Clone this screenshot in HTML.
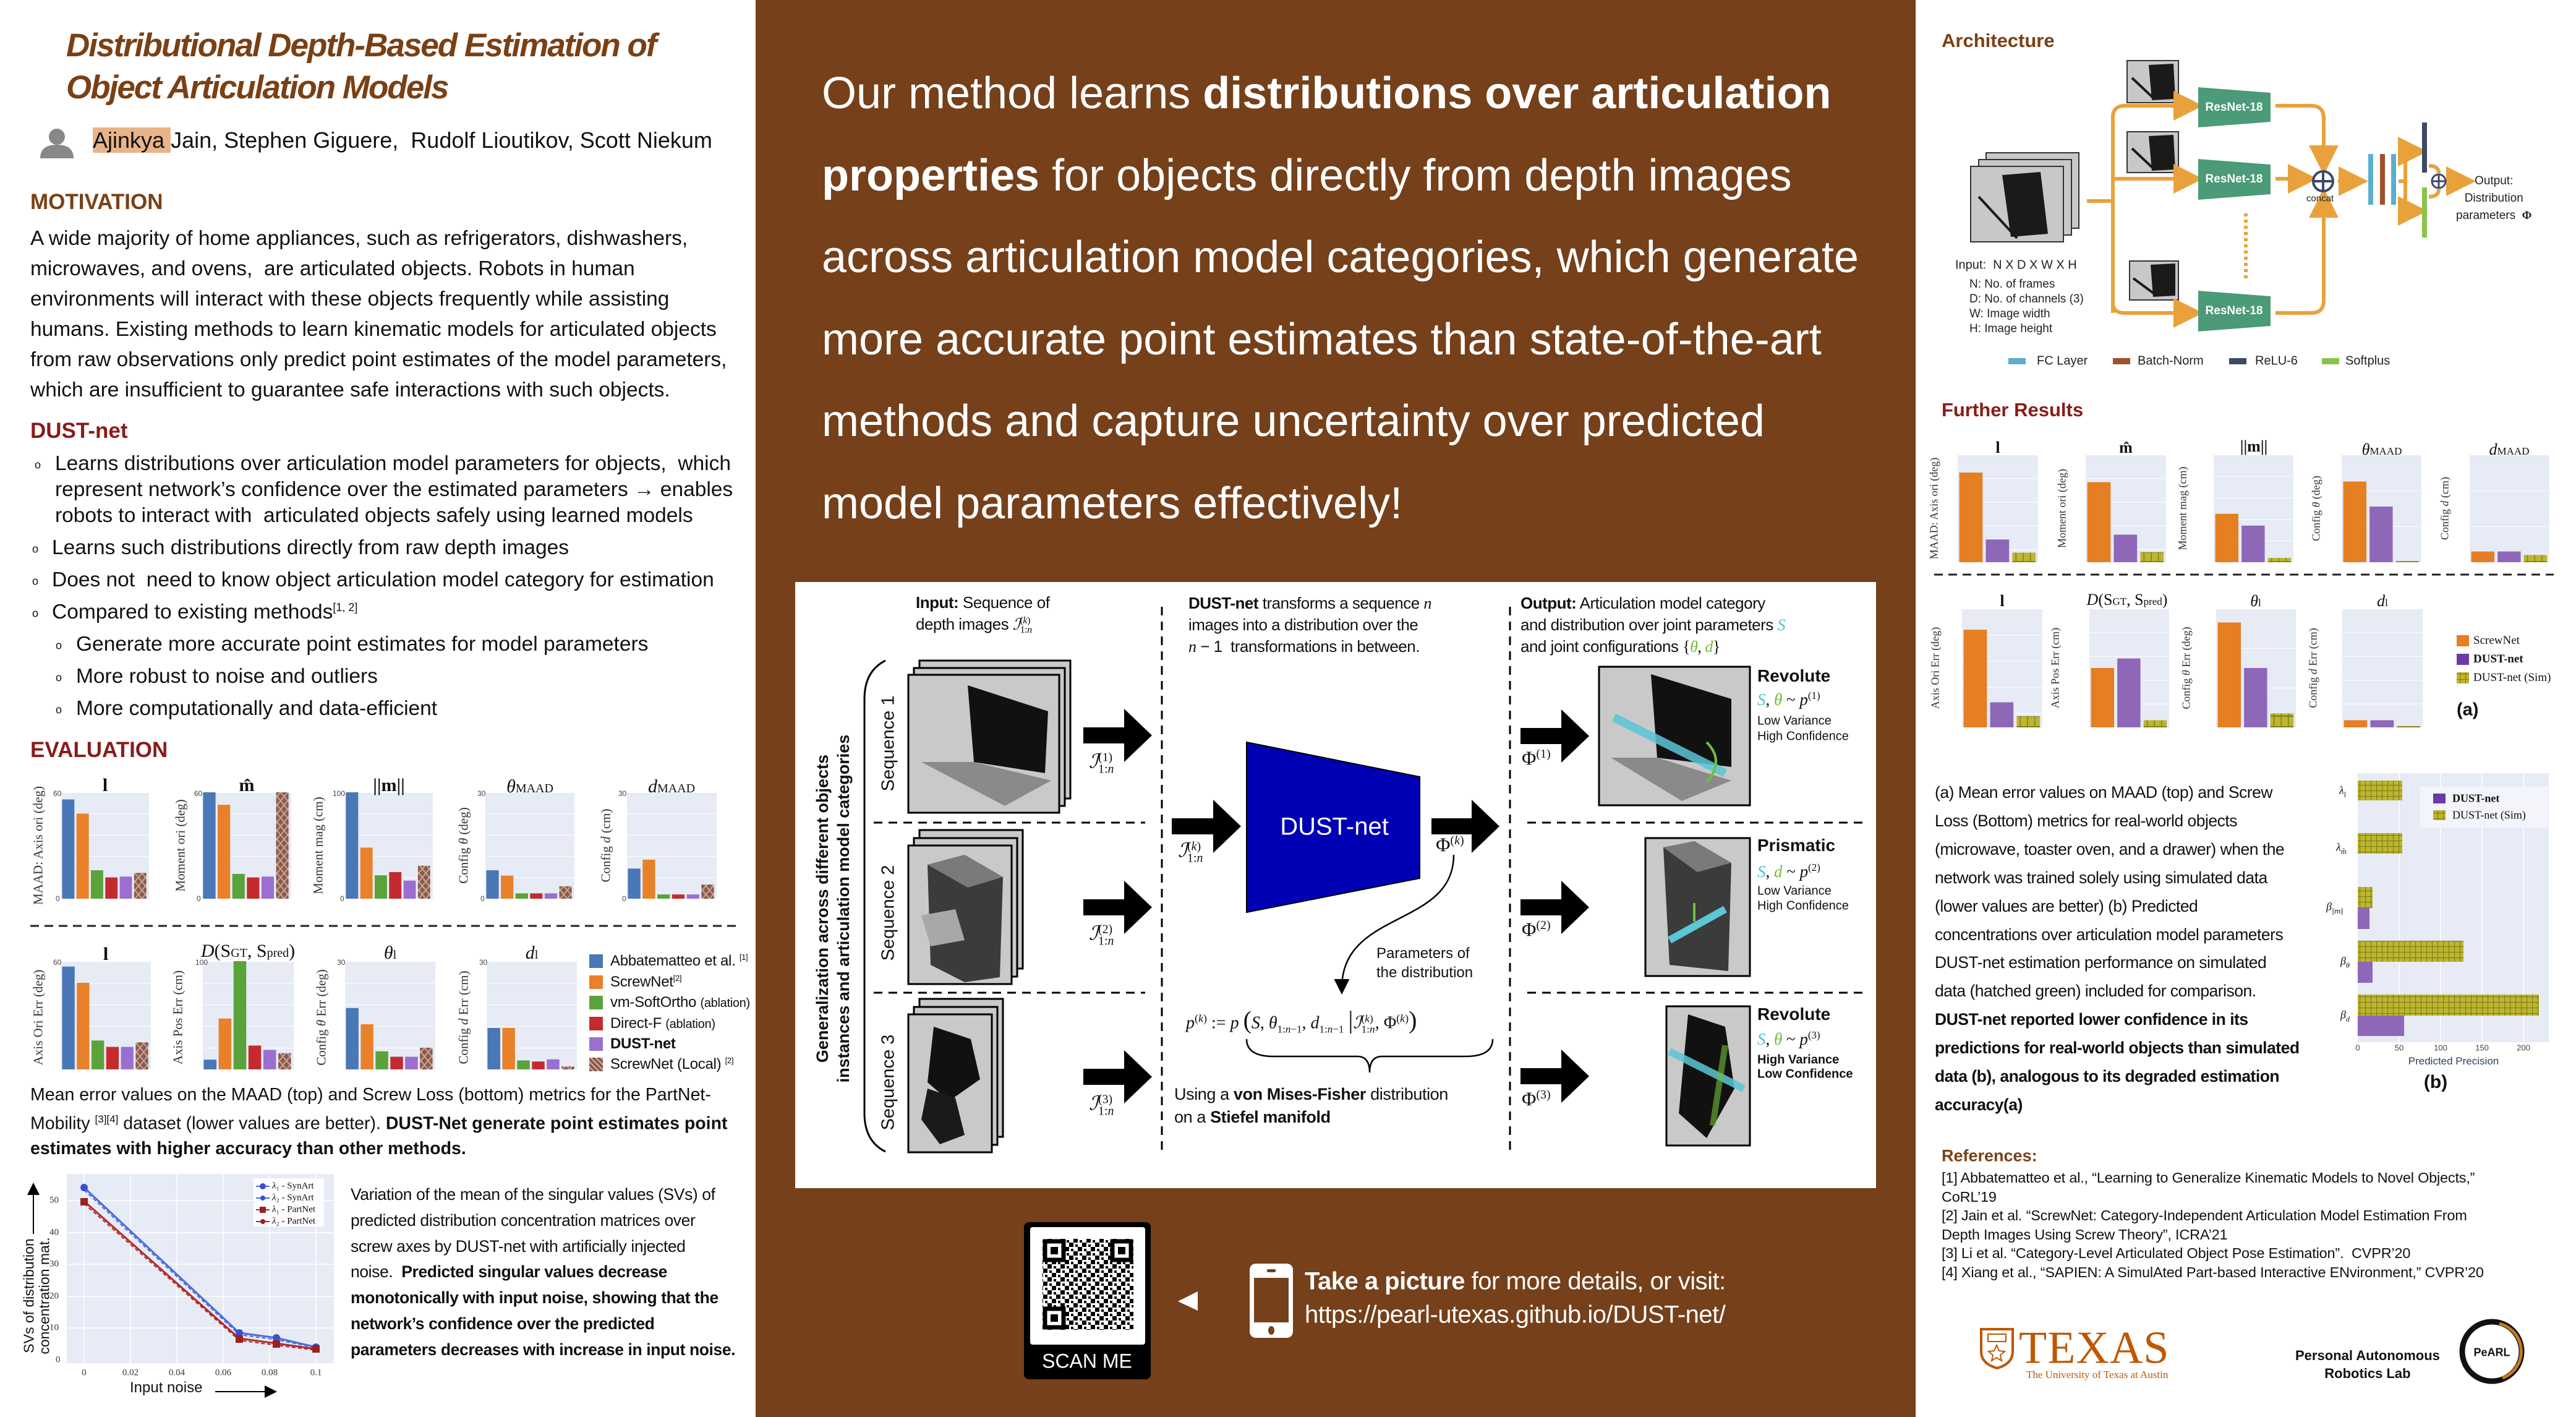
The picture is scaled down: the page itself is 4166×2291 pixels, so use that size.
<!DOCTYPE html>
<html><head><meta charset="utf-8">
<style>
*{margin:0;padding:0;box-sizing:border-box}
body{width:4166px;height:2291px;position:relative;overflow:hidden;background:#fff;font-family:"Liberation Sans",sans-serif;color:#111}
.a{position:absolute;white-space:nowrap}
.c{transform:translateY(-50%)}
.cc{transform:translate(-50%,-50%)}
.rot{transform:translate(-50%,-50%) rotate(-90deg)}
.sf{font-family:"Liberation Serif",serif}
.ss{display:inline-block;vertical-align:middle;line-height:.95;font-size:.62em;text-align:left}
.ss b,.ss span{display:block;font-weight:normal}
.pl{position:absolute;background-color:#e6ebf5;background-image:linear-gradient(#fff 1px,transparent 1px);background-size:100% 20%;background-position:0 0}
.pl svg{position:absolute;left:0;top:0;width:100%;height:100%}
.h{font-weight:bold}
.tk{font-size:12px;color:#444;text-align:right}
</style></head><body>

<svg width="4166" height="2291" style="position:absolute;left:0;top:0" xmlns="http://www.w3.org/2000/svg">
<defs>
<pattern id="hy" patternUnits="userSpaceOnUse" width="9" height="9"><rect width="9" height="9" fill="#bdb62e"/><path d="M0 .5H9M.5 0V9" stroke="#7f7c18" stroke-width="1.2"/></pattern>
<pattern id="hb" patternUnits="userSpaceOnUse" width="8" height="8"><rect width="8" height="8" fill="#8c5a4a"/><path d="M0 0L8 8M8 0L0 8" stroke="#c9a99c" stroke-width="1.2"/></pattern>
<marker id="ah" markerWidth="8" markerHeight="8" refX="5" refY="4" orient="auto"><path d="M0,0 L8,4 L0,8z" fill="#e9a23b"/></marker>
<marker id="ak" markerWidth="10" markerHeight="10" refX="6" refY="5" orient="auto"><path d="M0,0 L10,5 L0,10z" fill="#000"/></marker>
</defs>
<rect x="1222" y="0" width="1876" height="2291" fill="#75401a"/>
<rect x="1286" y="941" width="1748" height="980" fill="#fff"/>

<circle cx="92" cy="221" r="13" fill="#888"/>
<path d="M65 256 Q65 234 92 234 Q119 234 119 256Z" fill="#888"/>

<line x1="49" y1="1497" x2="1190" y2="1497" stroke="#222" stroke-width="3" stroke-dasharray="14 9"/>

<rect x="108" y="1898" width="432" height="306" fill="#e6ebf5"/>
<g stroke="#fff" stroke-width="1.5"><line x1="108" y1="1941" x2="540" y2="1941"/><line x1="108" y1="1993" x2="540" y2="1993"/><line x1="108" y1="2044" x2="540" y2="2044"/><line x1="108" y1="2096" x2="540" y2="2096"/><line x1="108" y1="2147" x2="540" y2="2147"/><line x1="211" y1="1898" x2="211" y2="2204"/><line x1="286" y1="1898" x2="286" y2="2204"/><line x1="361" y1="1898" x2="361" y2="2204"/><line x1="436" y1="1898" x2="436" y2="2204"/><line x1="511" y1="1898" x2="511" y2="2204"/><line x1="136" y1="1898" x2="136" y2="2204"/></g>
<polyline points="136,1920 387,2155 447,2163 511,2178" fill="none" stroke="#4b6be0" stroke-width="3"/>
<polyline points="136,1924 387,2158 447,2166 511,2179" fill="none" stroke="#4b6be0" stroke-width="2" stroke-dasharray="6 4"/>
<polyline points="136,1942 387,2164 447,2172 511,2181" fill="none" stroke="#b02a2a" stroke-width="3"/>
<polyline points="136,1946 387,2167 447,2175 511,2183" fill="none" stroke="#b02a2a" stroke-width="2" stroke-dasharray="6 4"/>
<g fill="#3a4fd0"><circle cx="136" cy="1920" r="6"/><circle cx="387" cy="2155" r="6"/><circle cx="447" cy="2163" r="6"/><circle cx="511" cy="2178" r="6"/></g>
<g fill="#9c2020"><rect x="130" y="1937" width="12" height="12"/><rect x="381" y="2159" width="12" height="12"/><rect x="441" y="2167" width="12" height="12"/><rect x="505" y="2175" width="12" height="12"/></g>
<rect x="410" y="1905" width="114" height="78" fill="#fff" opacity=".9"/>
<g stroke-width="2"><line x1="414" y1="1918" x2="436" y2="1918" stroke="#4b6be0"/><line x1="414" y1="1937" x2="436" y2="1937" stroke="#4b6be0"/><line x1="414" y1="1956" x2="436" y2="1956" stroke="#b02a2a"/><line x1="414" y1="1975" x2="436" y2="1975" stroke="#b02a2a"/></g>
<circle cx="425" cy="1918" r="5" fill="#3a4fd0"/><circle cx="425" cy="1937" r="4" fill="#3a4fd0"/><rect x="420" y="1951" width="10" height="10" fill="#9c2020"/><circle cx="425" cy="1975" r="4" fill="#9c2020"/>
<line x1="54" y1="1995" x2="54" y2="1920" stroke="#000" stroke-width="2" marker-end="url(#ak)"/>
<line x1="348" y1="2250" x2="440" y2="2250" stroke="#000" stroke-width="2" marker-end="url(#ak)"/>

<g stroke="#000" stroke-width="3" stroke-dasharray="14 10">
<line x1="1879" y1="981" x2="1879" y2="1862"/><line x1="2442" y1="981" x2="2442" y2="1862"/>
<line x1="1413" y1="1330" x2="1852" y2="1330"/><line x1="2470" y1="1330" x2="3015" y2="1330"/>
<line x1="1413" y1="1605" x2="1852" y2="1605"/><line x1="2470" y1="1605" x2="3015" y2="1605"/>
</g>
<path d="M1432 1068 Q1398 1085 1398 1130 L1398 1800 Q1398 1845 1432 1862" fill="none" stroke="#000" stroke-width="3"/>
<g stroke="#000" stroke-width="3" fill="#c9c9c9">
<rect x="1487" y="1068" width="244" height="223"/><rect x="1478" y="1080" width="244" height="223"/><rect x="1469" y="1091" width="244" height="223"/>
<rect x="1487" y="1342" width="167" height="224"/><rect x="1478" y="1355" width="167" height="224"/><rect x="1469" y="1367" width="167" height="224"/>
<rect x="1487" y="1615" width="135" height="223"/><rect x="1478" y="1628" width="135" height="223"/><rect x="1469" y="1640" width="135" height="223"/>
</g>
<polygon points="1565,1108 1695,1150 1690,1250 1575,1232" fill="#111"/>
<polygon points="1490,1232 1575,1232 1700,1262 1625,1303" fill="#8a8a8a"/>
<polygon points="1500,1398 1560,1382 1622,1418 1617,1580 1560,1588 1505,1560" fill="#3b3b3b"/>
<polygon points="1500,1398 1560,1382 1622,1418 1565,1435" fill="#7a7a7a"/>
<polygon points="1490,1480 1545,1470 1560,1520 1505,1530" fill="#a8a8a8"/>
<polygon points="1510,1660 1570,1680 1585,1745 1535,1780 1500,1750" fill="#111"/>
<polygon points="1500,1760 1545,1775 1560,1835 1520,1850 1490,1810" fill="#1a1a1a"/>
<g fill="#000">
<path d="M1752 1176h66v-30l45 43l-45 43v-30h-66z"/>
<path d="M1752 1454h66v-30l45 43l-45 43v-30h-66z"/>
<path d="M1752 1728h66v-30l45 43l-45 43v-30h-66z"/>
<path d="M1895 1323h67v-30l45 43l-45 43v-30h-67z"/>
<path d="M2315 1323h65v-30l45 43l-45 43v-30h-65z"/>
<path d="M2459 1177h66v-30l45 43l-45 43v-30h-66z"/>
<path d="M2459 1454h66v-30l45 43l-45 43v-30h-66z"/>
<path d="M2459 1727h66v-30l45 43l-45 43v-30h-66z"/>
</g>
<polygon points="2016,1200 2296,1256 2296,1420 2016,1475" fill="#0000b4" stroke="#000" stroke-width="2"/>
<path d="M2351 1382 C2351 1500 2170 1470 2170 1598" fill="none" stroke="#000" stroke-width="2.5" marker-end="url(#ak)"/>
<path d="M2016 1680 Q2016 1708 2060 1708 L2195 1708 Q2215 1708 2215 1734 Q2215 1708 2235 1708 L2370 1708 Q2414 1708 2414 1680" fill="none" stroke="#000" stroke-width="2.5"/>
<g stroke="#000" stroke-width="3" fill="#c9c9c9">
<rect x="2586" y="1078" width="244" height="224"/><rect x="2661" y="1355" width="169" height="223"/><rect x="2695" y="1627" width="135" height="225"/>
</g>
<polygon points="2670,1090 2800,1130 2800,1240 2680,1225" fill="#111"/>
<polygon points="2605,1225 2680,1225 2800,1262 2720,1295" fill="#8a8a8a"/>
<line x1="2610" y1="1160" x2="2790" y2="1250" stroke="#5bc6d6" stroke-width="14" opacity=".85"/>
<path d="M2760 1200 Q2790 1230 2760 1265" fill="none" stroke="#6fbf3a" stroke-width="4"/>
<polygon points="2690,1370 2740,1360 2800,1395 2795,1570 2700,1560" fill="#3b3b3b"/>
<polygon points="2690,1370 2740,1360 2800,1395 2745,1410" fill="#7a7a7a"/>
<line x1="2790" y1="1470" x2="2700" y2="1520" stroke="#5bc6d6" stroke-width="12"/>
<line x1="2740" y1="1460" x2="2740" y2="1490" stroke="#6fbf3a" stroke-width="4"/>
<polygon points="2730,1640 2790,1660 2805,1760 2760,1840 2715,1800" fill="#111"/>
<line x1="2700" y1="1700" x2="2820" y2="1760" stroke="#5bc6d6" stroke-width="12" opacity=".85"/>
<line x1="2790" y1="1690" x2="2770" y2="1820" stroke="#6fbf3a" stroke-width="10" opacity=".6"/>

<rect x="1656" y="1976" width="205" height="254" rx="8" fill="#000"/>
<rect x="1666" y="1984" width="186" height="190" rx="4" fill="#fff"/>
<rect x="1686" y="2003" width="147" height="147" fill="url(#qr)"/>
<defs><pattern id="qr" patternUnits="userSpaceOnUse" width="21" height="21"><rect width="21" height="21" fill="#fff"/><path d="M0 0h7v7H0zM14 7h7v7h-7zM7 14h7v7H7zM3 10h4v4H3zM10 3h4v4h-4zM17 17h4v4h-4z" fill="#000"/></pattern></defs>
<g fill="#fff" stroke="#000" stroke-width="7"><rect x="1690" y="2007" width="30" height="30"/><rect x="1799" y="2007" width="30" height="30"/><rect x="1690" y="2116" width="30" height="30"/></g>
<g fill="#000"><rect x="1699" y="2016" width="12" height="12"/><rect x="1808" y="2016" width="12" height="12"/><rect x="1699" y="2125" width="12" height="12"/></g>
<polygon points="1937,2088 1905,2104 1937,2119" fill="#fff"/>
<rect x="2021" y="2043" width="70" height="120" rx="10" fill="#fff"/>
<rect x="2028" y="2066" width="56" height="72" fill="#75401a"/>
<rect x="2049" y="2052" width="14" height="5" rx="2" fill="#75401a"/>
<ellipse cx="2056" cy="2151" rx="5" ry="7" fill="#75401a"/>

<g stroke="#333" stroke-width="2" fill="#c8c8c8">
<rect x="3212" y="247" width="150" height="122"/><rect x="3200" y="258" width="150" height="122"/><rect x="3187" y="269" width="150" height="122"/>
<rect x="3440" y="98" width="83" height="68"/><rect x="3440" y="213" width="83" height="66"/><rect x="3444" y="422" width="79" height="63"/>
</g>
<g fill="#1a1a1a"><polygon points="3238,283 3300,278 3312,378 3252,383"/><polygon points="3475,105 3515,103 3518,160 3480,162"/><polygon points="3475,220 3515,218 3518,274 3480,276"/><polygon points="3478,428 3518,426 3518,478 3482,480"/></g>
<g stroke="#1a1a1a" stroke-width="4"><line x1="3200" y1="318" x2="3262" y2="385"/><line x1="3448" y1="126" x2="3482" y2="158"/><line x1="3448" y1="240" x2="3482" y2="272"/><line x1="3450" y1="450" x2="3484" y2="475"/></g>
<g fill="none" stroke="#e9a23b" stroke-width="6">
<path d="M3375 325 H3417"/>
<path d="M3417 506 V190 Q3417 171 3436 171 H3545" marker-end="url(#ah)"/>
<path d="M3417 289 H3545" marker-end="url(#ah)"/>
<path d="M3417 490 Q3417 506 3436 506 H3545" marker-end="url(#ah)"/>
<path d="M3680 171 H3738 Q3758 171 3758 192 V265" marker-end="url(#ah)"/>
<path d="M3680 289 H3730" marker-end="url(#ah)"/>
<path d="M3680 506 H3738 Q3758 506 3758 486 V322" marker-end="url(#ah)"/>
<path d="M3781 293 H3812" marker-end="url(#ah)"/>
<path d="M3632 345 V454" stroke-dasharray="5 5"/>
<path d="M3879 293 H3890 M3900 245 Q3890 245 3890 260 V326 Q3890 341 3900 341"/>
<path d="M3900 245 H3908" marker-end="url(#ah)"/>
<path d="M3900 341 H3908" marker-end="url(#ah)"/>
<path d="M3928 268 Q3944 268 3944 280"/>
<path d="M3928 318 Q3944 318 3944 306"/>
<path d="M3957 293 H3986" marker-end="url(#ah)"/>
</g>
<g fill="#4b9a78"><polygon points="3555,141 3672,150 3672,197 3555,206"/><polygon points="3555,257 3672,266 3672,314 3555,323"/><polygon points="3555,470 3672,479 3672,527 3555,536"/></g>
<circle cx="3757" cy="293" r="16" fill="#fff" stroke="#3b4a6b" stroke-width="4"/><path d="M3741 293H3773M3757 277V309" stroke="#3b4a6b" stroke-width="4"/>
<rect x="3830" y="249" width="8" height="82" fill="#5aaed0"/><rect x="3849" y="249" width="8" height="82" fill="#a0502a"/><rect x="3867" y="249" width="8" height="82" fill="#5aaed0"/>
<rect x="3917" y="198" width="8" height="81" fill="#3d4a63"/><rect x="3917" y="303" width="8" height="81" fill="#8bc34a"/>
<circle cx="3944" cy="293" r="11" fill="#fff" stroke="#3b4a6b" stroke-width="3"/><path d="M3933 293H3955M3944 282V304" stroke="#3b4a6b" stroke-width="3"/>
<rect x="3248" y="579" width="28" height="10" fill="#5aaed0"/><rect x="3417" y="579" width="28" height="10" fill="#a0502a"/><rect x="3605" y="579" width="28" height="10" fill="#3d4a63"/><rect x="3755" y="579" width="28" height="10" fill="#8bc34a"/>

<line x1="3128" y1="929" x2="4130" y2="929" stroke="#222" stroke-width="3" stroke-dasharray="14 9"/>
<rect x="3973" y="1027" width="20" height="18" fill="#e67e22"/><rect x="3973" y="1057" width="20" height="18" fill="#6a3aa8"/><rect x="3973" y="1087" width="20" height="18" fill="url(#hy)"/>
<rect x="3813" y="1250" width="309" height="435" fill="#e6ebf5"/>
<g stroke="#fff" stroke-width="1.5"><line x1="3880" y1="1250" x2="3880" y2="1685"/><line x1="3947" y1="1250" x2="3947" y2="1685"/><line x1="4014" y1="1250" x2="4014" y2="1685"/><line x1="4081" y1="1250" x2="4081" y2="1685"/></g>
<rect x="3813" y="1262" width="72" height="32" fill="url(#hy)"/>
<rect x="3813" y="1347" width="72" height="33" fill="url(#hy)"/>
<rect x="3813" y="1434" width="24" height="34" fill="url(#hy)"/><rect x="3813" y="1468" width="19" height="34" fill="#8e67b8"/>
<rect x="3813" y="1521" width="171" height="34" fill="url(#hy)"/><rect x="3813" y="1555" width="24" height="34" fill="#8e67b8"/>
<rect x="3813" y="1608" width="293" height="34" fill="url(#hy)"/><rect x="3813" y="1642" width="75" height="33" fill="#8e67b8"/>
<rect x="3914" y="1272" width="207" height="66" fill="#f3f5fb"/>
<rect x="3935" y="1283" width="20" height="16" fill="#6a3aa8"/><rect x="3935" y="1310" width="20" height="16" fill="url(#hy)"/>
<path d="M3204 2149 H3255 V2185 Q3255 2205 3230 2212 Q3204 2205 3204 2185Z" fill="none" stroke="#bf5700" stroke-width="4"/>
<rect x="3215" y="2157" width="29" height="12" fill="none" stroke="#bf5700" stroke-width="2"/>
<path d="M3229 2175 l4 9 9 1 -7 6 2 9 -8 -5 -8 5 2 -9 -7 -6 9 -1z" fill="none" stroke="#bf5700" stroke-width="2"/>
<circle cx="4030" cy="2185" r="48" fill="#fff" stroke="#111" stroke-width="9"/>
<path d="M4042 2140 A46 46 0 0 1 4047 2228" fill="none" stroke="#c8781e" stroke-width="5"/>
</svg>

<!-- LEFT COLUMN -->
<div class="a h" style="left:107px;top:40px;font-size:53px;line-height:68px;font-style:italic;color:#7a4014;letter-spacing:-2px">Distributional Depth-Based Estimation of<br>Object Articulation Models</div>
<div class="a c" style="left:150px;top:227px;font-size:36px"><span style="background:#e9b489">Ajinkya </span>Jain, Stephen Giguere,&nbsp; Rudolf Lioutikov, Scott Niekum</div>
<div class="a c h" style="left:49px;top:327px;font-size:35px;color:#7a4014">MOTIVATION</div>
<div class="a" style="left:49px;top:361px;font-size:33.5px;line-height:49px">A wide majority of home appliances, such as refrigerators, dishwashers,<br>microwaves, and ovens,&nbsp; are articulated objects. Robots in human<br>environments will interact with these objects frequently while assisting<br>humans. Existing methods to learn kinematic models for articulated objects<br>from raw observations only predict point estimates of the model parameters,<br>which are insufficient to guarantee safe interactions with such objects.</div>
<div class="a c h" style="left:49px;top:697px;font-size:35px;color:#8b1a1a">DUST-net</div>
<div style="position:absolute;left:0;top:0;font-size:33.5px">
<div class="a c" style="left:56px;top:752px;font-size:18px">o</div>
<div class="a" style="left:89px;top:729px;line-height:42px">Learns distributions over articulation model parameters for objects,&nbsp; which<br>represent network’s confidence over the estimated parameters → enables<br>robots to interact with&nbsp; articulated objects safely using learned models</div>
<div class="a c" style="left:52px;top:888px;font-size:18px">o</div><div class="a c" style="left:84px;top:886px">Learns such distributions directly from raw depth images</div>
<div class="a c" style="left:52px;top:940px;font-size:18px">o</div><div class="a c" style="left:84px;top:938px">Does not&nbsp; need to know object articulation model category for estimation</div>
<div class="a c" style="left:52px;top:992px;font-size:18px">o</div><div class="a c" style="left:84px;top:990px">Compared to existing methods<sup style="font-size:18px">[1, 2]</sup></div>
<div class="a c" style="left:90px;top:1044px;font-size:18px">o</div><div class="a c" style="left:123px;top:1042px">Generate more accurate point estimates for model parameters</div>
<div class="a c" style="left:90px;top:1096px;font-size:18px">o</div><div class="a c" style="left:123px;top:1094px">More robust to noise and outliers</div>
<div class="a c" style="left:90px;top:1148px;font-size:18px">o</div><div class="a c" style="left:123px;top:1146px">More computationally and data-efficient</div>
</div>
<div class="a c h" style="left:49px;top:1213px;font-size:35px;color:#8b1a1a">EVALUATION</div>

<div class="pl" style="left:99px;top:1281px;width:142px;height:172px"><svg viewBox="0 0 100 100" preserveAspectRatio="none"><rect x="1" y="6.7" width="14" height="93.3" fill="#4a77b5"/><rect x="17.4" y="20" width="14" height="80" fill="#e8812a"/><rect x="33.8" y="73.3" width="14" height="26.7" fill="#5aa33b"/><rect x="50.2" y="80" width="14" height="20" fill="#c42b2f"/><rect x="66.6" y="79.2" width="14" height="20.8" fill="#9a6fd0"/><rect x="83" y="75.8" width="14" height="24.2" fill="url(#hb)"/></svg></div>
<div class="pl" style="left:327px;top:1281px;width:144px;height:172px"><svg viewBox="0 0 100 100" preserveAspectRatio="none"><rect x="1" y="0" width="14" height="100" fill="#4a77b5"/><rect x="17.4" y="11.7" width="14" height="88.3" fill="#e8812a"/><rect x="33.8" y="76.7" width="14" height="23.3" fill="#5aa33b"/><rect x="50.2" y="80" width="14" height="20" fill="#c42b2f"/><rect x="66.6" y="79.2" width="14" height="20.8" fill="#9a6fd0"/><rect x="83" y="0" width="14" height="100" fill="url(#hb)"/></svg></div>
<div class="pl" style="left:558px;top:1281px;width:142px;height:172px"><svg viewBox="0 0 100 100" preserveAspectRatio="none"><rect x="1" y="0" width="14" height="100" fill="#4a77b5"/><rect x="17.4" y="52" width="14" height="48" fill="#e8812a"/><rect x="33.8" y="78" width="14" height="22" fill="#5aa33b"/><rect x="50.2" y="75" width="14" height="25" fill="#c42b2f"/><rect x="66.6" y="83" width="14" height="17" fill="#9a6fd0"/><rect x="83" y="69" width="14" height="31" fill="url(#hb)"/></svg></div>
<div class="pl" style="left:785px;top:1281px;width:144px;height:172px"><svg viewBox="0 0 100 100" preserveAspectRatio="none"><rect x="1" y="73.3" width="14" height="26.7" fill="#4a77b5"/><rect x="17.4" y="78.3" width="14" height="21.7" fill="#e8812a"/><rect x="33.8" y="95" width="14" height="5" fill="#5aa33b"/><rect x="50.2" y="95" width="14" height="5" fill="#c42b2f"/><rect x="66.6" y="95" width="14" height="5" fill="#9a6fd0"/><rect x="83" y="88.3" width="14" height="11.7" fill="url(#hb)"/></svg></div>
<div class="pl" style="left:1014px;top:1281px;width:145px;height:172px"><svg viewBox="0 0 100 100" preserveAspectRatio="none"><rect x="1" y="71.7" width="14" height="28.3" fill="#4a77b5"/><rect x="17.4" y="63.3" width="14" height="36.7" fill="#e8812a"/><rect x="33.8" y="96" width="14" height="4" fill="#5aa33b"/><rect x="50.2" y="96" width="14" height="4" fill="#c42b2f"/><rect x="66.6" y="96" width="14" height="4" fill="#9a6fd0"/><rect x="83" y="86.7" width="14" height="13.3" fill="url(#hb)"/></svg></div>
<div class="pl" style="left:99px;top:1554px;width:145px;height:175px"><svg viewBox="0 0 100 100" preserveAspectRatio="none"><rect x="1" y="5" width="14" height="95" fill="#4a77b5"/><rect x="17.4" y="20" width="14" height="80" fill="#e8812a"/><rect x="33.8" y="73.3" width="14" height="26.7" fill="#5aa33b"/><rect x="50.2" y="79.2" width="14" height="20.8" fill="#c42b2f"/><rect x="66.6" y="79.2" width="14" height="20.8" fill="#9a6fd0"/><rect x="83" y="75" width="14" height="25" fill="url(#hb)"/></svg></div>
<div class="pl" style="left:328px;top:1554px;width:147px;height:175px"><svg viewBox="0 0 100 100" preserveAspectRatio="none"><rect x="1" y="91" width="14" height="9" fill="#4a77b5"/><rect x="17.4" y="53" width="14" height="47" fill="#e8812a"/><rect x="33.8" y="0" width="14" height="100" fill="#5aa33b"/><rect x="50.2" y="78" width="14" height="22" fill="#c42b2f"/><rect x="66.6" y="82" width="14" height="18" fill="#9a6fd0"/><rect x="83" y="85" width="14" height="15" fill="url(#hb)"/></svg></div>
<div class="pl" style="left:558px;top:1554px;width:146px;height:175px"><svg viewBox="0 0 100 100" preserveAspectRatio="none"><rect x="1" y="43.3" width="14" height="56.7" fill="#4a77b5"/><rect x="17.4" y="58.3" width="14" height="41.7" fill="#e8812a"/><rect x="33.8" y="83.3" width="14" height="16.7" fill="#5aa33b"/><rect x="50.2" y="88.3" width="14" height="11.7" fill="#c42b2f"/><rect x="66.6" y="88.3" width="14" height="11.7" fill="#9a6fd0"/><rect x="83" y="80" width="14" height="20" fill="url(#hb)"/></svg></div>
<div class="pl" style="left:787px;top:1554px;width:146px;height:175px"><svg viewBox="0 0 100 100" preserveAspectRatio="none"><rect x="1" y="61.7" width="14" height="38.3" fill="#4a77b5"/><rect x="17.4" y="61.7" width="14" height="38.3" fill="#e8812a"/><rect x="33.8" y="91.7" width="14" height="8.3" fill="#5aa33b"/><rect x="50.2" y="92.7" width="14" height="7.3" fill="#c42b2f"/><rect x="66.6" y="90.7" width="14" height="9.3" fill="#9a6fd0"/><rect x="83" y="97.3" width="14" height="2.7" fill="url(#hb)"/></svg></div>

<div class="sf" style="position:absolute;left:0;top:0;font-size:30px">
<div class="a cc h" style="left:170px;top:1270px">l</div>
<div class="a cc h" style="left:399px;top:1270px">m̂</div>
<div class="a cc h" style="left:629px;top:1270px">||m||</div>
<div class="a cc" style="left:857px;top:1272px"><i>θ</i><span style="font-size:20px">MAAD</span></div>
<div class="a cc" style="left:1086px;top:1272px"><i>d</i><span style="font-size:20px">MAAD</span></div>
<div class="a cc h" style="left:171px;top:1543px">l</div>
<div class="a cc" style="left:401px;top:1538px"><i>D</i>(S<span style="font-size:20px">GT</span>, S<span style="font-size:20px">pred</span>)</div>
<div class="a cc" style="left:631px;top:1541px"><i>θ</i><span style="font-size:20px">l</span></div>
<div class="a cc" style="left:860px;top:1541px"><i>d</i><span style="font-size:20px">l</span></div>
</div>
<div class="sf" style="position:absolute;left:0;top:0;font-size:21px;color:#333">
<div class="a rot" style="left:62px;top:1367px">MAAD: Axis ori (deg)</div>
<div class="a rot" style="left:292px;top:1367px">Moment ori (deg)</div>
<div class="a rot" style="left:515px;top:1367px">Moment mag (cm)</div>
<div class="a rot" style="left:750px;top:1367px">Config <i>θ</i> (deg)</div>
<div class="a rot" style="left:980px;top:1367px">Config <i>d</i> (cm)</div>
<div class="a rot" style="left:62px;top:1645px">Axis Ori Err (deg)</div>
<div class="a rot" style="left:288px;top:1645px">Axis Pos Err (cm)</div>
<div class="a rot" style="left:520px;top:1645px">Config <i>θ</i> Err (deg)</div>
<div class="a rot" style="left:750px;top:1645px">Config <i>d</i> Err (cm)</div>
</div>
<div class="tk">
<div class="a c" style="left:86px;top:1283px">60</div><div class="a c" style="left:90px;top:1453px">0</div>
<div class="a c" style="left:314px;top:1283px">60</div><div class="a c" style="left:318px;top:1453px">0</div>
<div class="a c" style="left:538px;top:1283px">100</div><div class="a c" style="left:550px;top:1453px">0</div>
<div class="a c" style="left:772px;top:1283px">30</div><div class="a c" style="left:777px;top:1453px">0</div>
<div class="a c" style="left:1000px;top:1283px">30</div><div class="a c" style="left:1006px;top:1453px">0</div>
<div class="a c" style="left:86px;top:1556px">60</div><div class="a c" style="left:316px;top:1556px">100</div><div class="a c" style="left:545px;top:1556px">30</div><div class="a c" style="left:775px;top:1556px">30</div>
</div>
<div style="position:absolute;left:0;top:0;font-size:24px;letter-spacing:-0.3px">
<div class="a" style="left:953px;top:1543px;width:22px;height:22px;background:#4a77b5"></div><div class="a c" style="left:987px;top:1554px">Abbatematteo et al. <sup style="font-size:13px">[1]</sup></div>
<div class="a" style="left:953px;top:1577px;width:22px;height:22px;background:#e8812a"></div><div class="a c" style="left:987px;top:1588px">ScrewNet<sup style="font-size:13px">[2]</sup></div>
<div class="a" style="left:953px;top:1610px;width:22px;height:22px;background:#5aa33b"></div><div class="a c" style="left:987px;top:1621px">vm-SoftOrtho <span style="font-size:20px">(ablation)</span></div>
<div class="a" style="left:953px;top:1644px;width:22px;height:22px;background:#c42b2f"></div><div class="a c" style="left:987px;top:1655px">Direct-F <span style="font-size:20px">(ablation)</span></div>
<div class="a" style="left:953px;top:1677px;width:22px;height:22px;background:#9a6fd0"></div><div class="a c h" style="left:987px;top:1688px">DUST-net</div>
<div class="a" style="left:953px;top:1710px;width:22px;height:22px;background:repeating-linear-gradient(45deg,#8c5a4a 0 4px,#d7c0b5 4px 6px)"></div><div class="a c" style="left:987px;top:1721px">ScrewNet (Local) <sup style="font-size:13px">[2]</sup></div>
</div>
<div class="a" style="left:49px;top:1750px;font-size:28.5px;line-height:40px">Mean error values on the MAAD (top) and Screw Loss (bottom) metrics for the PartNet-<br>Mobility <sup style="font-size:17px">[3][4]</sup> dataset (lower values are better). <b>DUST-Net generate point estimates point</b><br><b>estimates with higher accuracy than other methods.</b></div>

<div class="sf" style="position:absolute;left:0;top:0;font-size:15px;color:#333">
<div class="a c" style="left:440px;top:1918px;color:#111"><i>λ</i>₁ - SynArt</div>
<div class="a c" style="left:440px;top:1937px;color:#111"><i>λ</i>₂ - SynArt</div>
<div class="a c" style="left:440px;top:1956px;color:#111"><i>λ</i>₁ - PartNet</div>
<div class="a c" style="left:440px;top:1975px;color:#111"><i>λ</i>₂ - PartNet</div>
<div class="a c" style="left:80px;top:1941px">50</div><div class="a c" style="left:80px;top:1993px">40</div><div class="a c" style="left:80px;top:2044px">30</div><div class="a c" style="left:80px;top:2096px">20</div><div class="a c" style="left:80px;top:2147px">10</div><div class="a c" style="left:90px;top:2199px">0</div>
<div class="a cc" style="left:136px;top:2220px">0</div><div class="a cc" style="left:211px;top:2220px">0.02</div><div class="a cc" style="left:286px;top:2220px">0.04</div><div class="a cc" style="left:361px;top:2220px">0.06</div><div class="a cc" style="left:436px;top:2220px">0.08</div><div class="a cc" style="left:511px;top:2220px">0.1</div>
</div>
<div class="a rot" style="left:47px;top:2095px;font-size:23px">SVs of distribution</div>
<div class="a rot" style="left:72px;top:2095px;font-size:23px">concentration mat.</div>
<div class="a c" style="left:210px;top:2244px;font-size:24px">Input noise</div>
<div class="a" style="left:567px;top:1911px;font-size:26.5px;line-height:41.8px;letter-spacing:-0.4px">Variation of the mean of the singular values (SVs) of<br>predicted distribution concentration matrices over<br>screw axes by DUST-net with artificially injected<br>noise.&nbsp; <b>Predicted singular values decrease</b><br><b>monotonically with input noise, showing that the</b><br><b>network’s confidence over the predicted</b><br><b>parameters decreases with increase in input noise.</b></div>

<!-- MIDDLE -->
<div class="a" style="left:1329px;top:85px;font-size:72px;line-height:132.5px;color:#fff">Our method learns <b>distributions over articulation</b><br><b>properties</b> for objects directly from depth images<br>across articulation model categories, which generate<br>more accurate point estimates than state-of-the-art<br>methods and capture uncertainty over predicted<br>model parameters effectively!</div>

<div class="a rot h" style="left:1347px;top:1469px;font-size:27px;line-height:34px;text-align:center">Generalization across different objects<br>instances and articulation model categories</div>
<div style="position:absolute;left:0;top:0;font-size:29px">
<div class="a rot" style="left:1437px;top:1202px">Sequence 1</div>
<div class="a rot" style="left:1437px;top:1476px">Sequence 2</div>
<div class="a rot" style="left:1437px;top:1750px">Sequence 3</div>
</div>
<div style="position:absolute;left:0;top:0;font-size:26px;line-height:35px;letter-spacing:-0.5px">
<div class="a" style="left:1481px;top:957px"><b>Input:</b> Sequence of<br>depth images <i class="sf">ℐ</i><span class="ss sf"><span>(<i>k</i>)</span><span>1:<i>n</i></span></span></div>
<div class="a" style="left:1922px;top:958px"><b>DUST-net</b> transforms a sequence <i class="sf">n</i><br>images into a distribution over the<br><i class="sf">n</i> − 1&nbsp; transformations in between.</div>
<div class="a" style="left:2459px;top:958px"><b>Output:</b> Articulation model category<br>and distribution over joint parameters <i class="sf" style="color:#4fc3d0">S</i><br>and joint configurations <span class="sf">{<i style="color:#6fbf3a">θ</i>, <i style="color:#6fbf3a">d</i>}</span></div>
</div>
<div class="sf" style="position:absolute;left:0;top:0;font-size:32px">
<div class="a c" style="left:1761px;top:1232px"><i>ℐ</i><span class="ss"><span>(1)</span><span>1:<i>n</i></span></span></div>
<div class="a c" style="left:1761px;top:1510px"><i>ℐ</i><span class="ss"><span>(2)</span><span>1:<i>n</i></span></span></div>
<div class="a c" style="left:1761px;top:1785px"><i>ℐ</i><span class="ss"><span>(3)</span><span>1:<i>n</i></span></span></div>
<div class="a c" style="left:1905px;top:1376px"><i>ℐ</i><span class="ss"><span>(<i>k</i>)</span><span>1:<i>n</i></span></span></div>
<div class="a c" style="left:2322px;top:1366px">Φ<sup style="font-size:20px">(<i>k</i>)</sup></div>
<div class="a c" style="left:2461px;top:1226px">Φ<sup style="font-size:20px">(1)</sup></div>
<div class="a c" style="left:2461px;top:1503px">Φ<sup style="font-size:20px">(2)</sup></div>
<div class="a c" style="left:2461px;top:1777px">Φ<sup style="font-size:20px">(3)</sup></div>
<div class="a c" style="left:1918px;top:1650px;font-size:28px"><i>p</i><sup style="font-size:18px">(<i>k</i>)</sup> := <i>p</i> <span style="font-size:40px">(</span><i>S</i>, <i>θ</i><sub style="font-size:17px">1:<i>n</i>−1</sub>, <i>d</i><sub style="font-size:17px">1:<i>n</i>−1</sub> <span style="font-size:40px">|</span><i>ℐ</i><span class="ss"><span>(<i>k</i>)</span><span>1:<i>n</i></span></span>, Φ<sup style="font-size:18px">(<i>k</i>)</sup><span style="font-size:40px">)</span></div>
</div>
<div class="a cc" style="left:2158px;top:1337px;font-size:40px;color:#fff">DUST-net</div>
<div class="a" style="left:2226px;top:1526px;font-size:24px;line-height:31px">Parameters of<br>the distribution</div>
<div class="a" style="left:1899px;top:1751px;font-size:27px;line-height:37px;letter-spacing:-0.4px">Using a <b>von Mises-Fisher</b> distribution<br>on a <b>Stiefel manifold</b></div>
<div style="position:absolute;left:0;top:0;font-size:20px">
<div class="a c h" style="left:2842px;top:1093px;font-size:28px">Revolute</div>
<div class="a c sf" style="left:2842px;top:1131px;font-size:27px"><i style="color:#4fc3d0">S</i>, <i style="color:#6fbf3a">θ</i> ~ <i>p</i><sup style="font-size:17px">(1)</sup></div>
<div class="a c" style="left:2842px;top:1166px">Low Variance</div>
<div class="a c" style="left:2842px;top:1191px">High Confidence</div>
<div class="a c h" style="left:2842px;top:1367px;font-size:28px">Prismatic</div>
<div class="a c sf" style="left:2842px;top:1409px;font-size:27px"><i style="color:#4fc3d0">S</i>, <i style="color:#6fbf3a">d</i> ~ <i>p</i><sup style="font-size:17px">(2)</sup></div>
<div class="a c" style="left:2842px;top:1441px">Low Variance</div>
<div class="a c" style="left:2842px;top:1465px">High Confidence</div>
<div class="a c h" style="left:2842px;top:1640px;font-size:28px">Revolute</div>
<div class="a c sf" style="left:2842px;top:1680px;font-size:27px"><i style="color:#4fc3d0">S</i>, <i style="color:#6fbf3a">θ</i> ~ <i>p</i><sup style="font-size:17px">(3)</sup></div>
<div class="a c h" style="left:2842px;top:1714px">High Variance</div>
<div class="a c h" style="left:2842px;top:1737px">Low Confidence</div>
</div>

<div class="a cc" style="left:1758px;top:2201px;font-size:32px;color:#fff">SCAN ME</div>
<div class="a c" style="left:2110px;top:2072px;font-size:40px;color:#fff;letter-spacing:-0.5px"><b>Take a picture</b> for more details, or visit:</div>
<div class="a c" style="left:2110px;top:2126px;font-size:40px;color:#fff;letter-spacing:-0.5px">https://pearl-utexas.github.io/DUST-net/</div>

<!-- RIGHT COLUMN -->
<div class="a c h" style="left:3140px;top:66px;font-size:31px;color:#7a4014">Architecture</div>
<div style="position:absolute;left:0;top:0;font-size:19px;color:#222">
<div class="a c" style="left:3162px;top:429px;font-size:20px">Input:&nbsp; N X D X W X H</div>
<div class="a c" style="left:3185px;top:460px">N: No. of frames</div>
<div class="a c" style="left:3185px;top:484px">D: No. of channels (3)</div>
<div class="a c" style="left:3185px;top:508px">W: Image width</div>
<div class="a c" style="left:3185px;top:532px">H: Image height</div>
<div class="a cc h" style="left:3613px;top:174px;color:#fff;font-size:19px">ResNet-18</div>
<div class="a cc h" style="left:3613px;top:290px;color:#fff;font-size:19px">ResNet-18</div>
<div class="a cc h" style="left:3613px;top:503px;color:#fff;font-size:19px">ResNet-18</div>
<div class="a cc" style="left:3752px;top:321px;font-size:15px">concat</div>
<div class="a" style="left:3972px;top:279px;font-size:19px;line-height:28px;text-align:center">Output:<br>Distribution<br>parameters&nbsp; <b class="sf">Φ</b></div>
<div class="a c" style="left:3294px;top:584px;font-size:20px">FC Layer</div>
<div class="a c" style="left:3457px;top:584px;font-size:20px">Batch-Norm</div>
<div class="a c" style="left:3647px;top:584px;font-size:20px">ReLU-6</div>
<div class="a c" style="left:3793px;top:584px;font-size:20px">Softplus</div>
</div>
<div class="a c h" style="left:3140px;top:663px;font-size:31px;color:#8b1a1a">Further Results</div>

<div class="pl" style="left:3166px;top:735px;width:130px;height:174px;background-size:100% 22%"><svg viewBox="0 0 100 100" preserveAspectRatio="none"><rect x="2" y="16.7" width="29" height="83.3" fill="#e67e22"/><rect x="35" y="78.9" width="29" height="21.1" fill="#8e67b8"/><rect x="68" y="91.1" width="29" height="8.9" fill="url(#hy)"/></svg></div>
<div class="pl" style="left:3373px;top:735px;width:130px;height:174px;background-size:100% 22%"><svg viewBox="0 0 100 100" preserveAspectRatio="none"><rect x="2" y="25.6" width="29" height="74.4" fill="#e67e22"/><rect x="35" y="74.4" width="29" height="25.6" fill="#8e67b8"/><rect x="68" y="90.6" width="29" height="9.4" fill="url(#hy)"/></svg></div>
<div class="pl" style="left:3580px;top:735px;width:129px;height:174px"><svg viewBox="0 0 100 100" preserveAspectRatio="none"><rect x="2" y="55" width="29" height="45" fill="#e67e22"/><rect x="35" y="66" width="29" height="34" fill="#8e67b8"/><rect x="68" y="96" width="29" height="4" fill="url(#hy)"/></svg></div>
<div class="pl" style="left:3787px;top:735px;width:129px;height:174px;background-size:100% 33.3%"><svg viewBox="0 0 100 100" preserveAspectRatio="none"><rect x="2" y="25" width="29" height="75" fill="#e67e22"/><rect x="35" y="48.3" width="29" height="51.7" fill="#8e67b8"/><rect x="68" y="99" width="29" height="1" fill="url(#hy)"/></svg></div>
<div class="pl" style="left:3994px;top:735px;width:129px;height:174px;background-size:100% 33.3%"><svg viewBox="0 0 100 100" preserveAspectRatio="none"><rect x="2" y="90" width="29" height="10" fill="#e67e22"/><rect x="35" y="90" width="29" height="10" fill="#8e67b8"/><rect x="68" y="93.3" width="29" height="6.7" fill="url(#hy)"/></svg></div>
<div class="pl" style="left:3173px;top:984px;width:130px;height:192px;background-size:100% 22%"><svg viewBox="0 0 100 100" preserveAspectRatio="none"><rect x="2" y="17.8" width="29" height="82.2" fill="#e67e22"/><rect x="35" y="78.9" width="29" height="21.1" fill="#8e67b8"/><rect x="68" y="90.6" width="29" height="9.4" fill="url(#hy)"/></svg></div>
<div class="pl" style="left:3379px;top:984px;width:129px;height:192px"><svg viewBox="0 0 100 100" preserveAspectRatio="none"><rect x="2" y="50" width="29" height="50" fill="#e67e22"/><rect x="35" y="42" width="29" height="58" fill="#8e67b8"/><rect x="68" y="94" width="29" height="6" fill="url(#hy)"/></svg></div>
<div class="pl" style="left:3584px;top:984px;width:129px;height:192px;background-size:100% 33.3%"><svg viewBox="0 0 100 100" preserveAspectRatio="none"><rect x="2" y="11.7" width="29" height="88.3" fill="#e67e22"/><rect x="35" y="50" width="29" height="50" fill="#8e67b8"/><rect x="68" y="88.3" width="29" height="11.7" fill="url(#hy)"/></svg></div>
<div class="pl" style="left:3788px;top:984px;width:130px;height:192px"><svg viewBox="0 0 100 100" preserveAspectRatio="none"><rect x="2" y="94" width="29" height="6" fill="#e67e22"/><rect x="35" y="94" width="29" height="6" fill="#8e67b8"/><rect x="68" y="99" width="29" height="1" fill="url(#hy)"/></svg></div>

<div class="sf" style="position:absolute;left:0;top:0;font-size:26px">
<div class="a cc h" style="left:3231px;top:724px">l</div>
<div class="a cc h" style="left:3438px;top:724px">m̂</div>
<div class="a cc h" style="left:3645px;top:722px">||m||</div>
<div class="a cc" style="left:3852px;top:727px"><i>θ</i><span style="font-size:17px">MAAD</span></div>
<div class="a cc" style="left:4058px;top:727px"><i>d</i><span style="font-size:17px">MAAD</span></div>
<div class="a cc h" style="left:3238px;top:972px">l</div>
<div class="a cc" style="left:3440px;top:970px"><i>D</i>(S<span style="font-size:17px">GT</span>, S<span style="font-size:17px">pred</span>)</div>
<div class="a cc" style="left:3648px;top:972px"><i>θ</i><span style="font-size:17px">l</span></div>
<div class="a cc" style="left:3853px;top:972px"><i>d</i><span style="font-size:17px">l</span></div>
</div>
<div class="sf" style="position:absolute;left:0;top:0;font-size:18px;color:#333">
<div class="a rot" style="left:3128px;top:822px">MAAD: Axis ori (deg)</div>
<div class="a rot" style="left:3335px;top:822px">Moment ori (deg)</div>
<div class="a rot" style="left:3530px;top:822px">Moment mag (cm)</div>
<div class="a rot" style="left:3746px;top:822px">Config <i>θ</i> (deg)</div>
<div class="a rot" style="left:3954px;top:822px">Config <i>d</i> (cm)</div>
<div class="a rot" style="left:3130px;top:1080px">Axis Ori Err (deg)</div>
<div class="a rot" style="left:3324px;top:1080px">Axis Pos Err (cm)</div>
<div class="a rot" style="left:3536px;top:1080px">Config <i>θ</i> Err (deg)</div>
<div class="a rot" style="left:3741px;top:1080px">Config <i>d</i> Err (cm)</div>
</div>
<div class="sf" style="position:absolute;left:0;top:0;font-size:19px;overflow:hidden;width:4166px;height:2291px">
<div class="a c" style="left:4000px;top:1036px">ScrewNet</div>
<div class="a c h" style="left:4000px;top:1066px">DUST-net</div>
<div class="a c" style="left:4000px;top:1096px">DUST-net (Sim)</div>
</div>
<div class="a c h" style="left:3973px;top:1148px;font-size:29px">(a)</div>

<div class="a" style="left:3129px;top:1259px;font-size:26.5px;line-height:45.9px;letter-spacing:-0.5px">(a) Mean error values on MAAD (top) and Screw<br>Loss (Bottom) metrics for real-world objects<br>(microwave, toaster oven, and a drawer) when the<br>network was trained solely using simulated data<br>(lower values are better) (b) Predicted<br>concentrations over articulation model parameters<br>DUST-net estimation performance on simulated<br>data (hatched green) included for comparison.<br><b>DUST-net reported lower confidence in its</b><br><b>predictions for real-world objects than simulated</b><br><b>data (b), analogous to its degraded estimation</b><br><b>accuracy(a)</b></div>

<div class="sf" style="position:absolute;left:0;top:0;font-size:18px">
<div class="a c h" style="left:3966px;top:1291px">DUST-net</div>
<div class="a c" style="left:3966px;top:1318px">DUST-net (Sim)</div>
<div class="a c" style="left:3783px;top:1280px"><i>λ</i><sub style="font-size:12px">l</sub></div>
<div class="a c" style="left:3778px;top:1372px"><i>λ</i><sub style="font-size:12px">m̂</sub></div>
<div class="a c" style="left:3762px;top:1468px"><i>β</i><sub style="font-size:12px">||m||</sub></div>
<div class="a c" style="left:3785px;top:1556px"><i>β</i><sub style="font-size:12px"><i>θ</i></sub></div>
<div class="a c" style="left:3785px;top:1643px"><i>β</i><sub style="font-size:12px"><i>d</i></sub></div>
</div>
<div style="position:absolute;left:0;top:0;font-size:13px;color:#444">
<div class="a cc" style="left:3813px;top:1694px">0</div><div class="a cc" style="left:3880px;top:1694px">50</div><div class="a cc" style="left:3947px;top:1694px">100</div><div class="a cc" style="left:4014px;top:1694px">150</div><div class="a cc" style="left:4081px;top:1694px">200</div>
<div class="a cc" style="left:3968px;top:1716px;font-size:17px;color:#2a3f5f">Predicted Precision</div>
</div>
<div class="a cc h" style="left:3939px;top:1750px;font-size:30px">(b)</div>

<div class="a c h" style="left:3140px;top:1869px;font-size:27px;color:#7a4014">References:</div>
<div class="a" style="left:3140px;top:1889px;font-size:23.5px;line-height:30.5px;letter-spacing:-0.2px">[1] Abbatematteo et al., “Learning to Generalize Kinematic Models to Novel Objects,”<br>CoRL’19<br>[2] Jain et al. “ScrewNet: Category-Independent Articulation Model Estimation From<br>Depth Images Using Screw Theory”, ICRA’21<br>[3] Li et al. “Category-Level Articulated Object Pose Estimation”.&nbsp; CVPR’20<br>[4] Xiang et al., “SAPIEN: A SimulAted Part-based Interactive ENvironment,” CVPR’20</div>

<div class="a c sf" style="left:3265px;top:2180px;font-size:74px;color:#bf5700;letter-spacing:1px">TEXAS</div>
<div class="a c sf" style="left:3277px;top:2223px;font-size:17px;color:#bf5700">The University of Texas at Austin</div>
<div class="a h" style="left:3712px;top:2177px;font-size:22px;line-height:29px;text-align:center">Personal Autonomous<br>Robotics Lab</div>
<div class="a cc h" style="left:4030px;top:2187px;font-size:18px">PeARL</div>
</body></html>
